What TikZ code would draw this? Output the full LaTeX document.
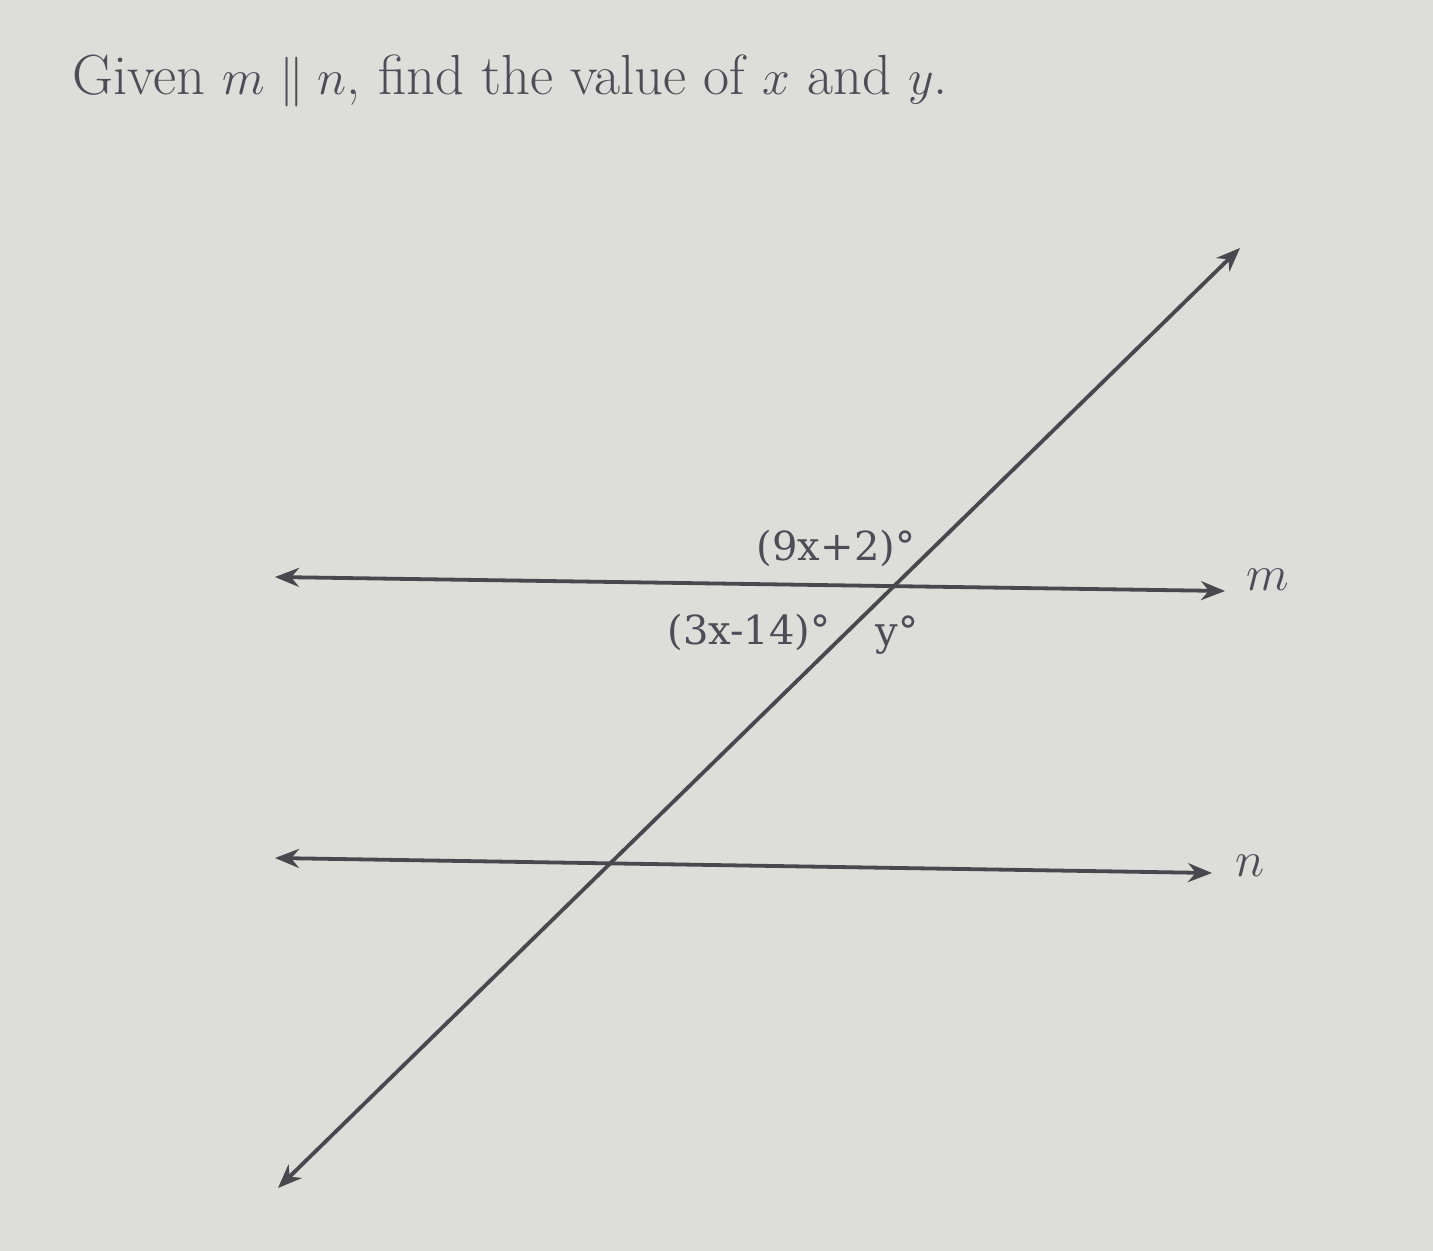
\documentclass[tikz,border=0pt]{standalone}
\usepackage{fontspec}
\newfontfamily\labelfont{DejaVu Serif}
\usetikzlibrary{arrows.meta}
\definecolor{bg}{RGB}{221,221,217}
\definecolor{ink}{RGB}{72,72,78}
\definecolor{txt}{RGB}{78,76,86}
\tikzset{
  line/.style={draw=ink, line width=1.9pt, {Stealth[length=12pt,width=9.5pt]}-{Stealth[length=12pt,width=9.5pt]}},
  anglabel/.style={text=txt, font=\labelfont\fontsize{20}{23}\selectfont, inner sep=0pt},
  linelabel/.style={text=txt, font=\fontsize{24}{28}\selectfont, inner sep=0pt},
  title/.style={text=txt, font=\fontsize{28.3}{32}\selectfont, inner sep=0pt, anchor=base west}
}
\begin{document}
\begin{tikzpicture}[x=0.5pt,y=-0.5pt]
\fill[bg] (0,0) rectangle (1433,1251);
\useasboundingbox (0,0) rectangle (1433,1251);
\node[title] (ttl) at (72,95) {Given $m\parallel n$, find the value of $x$ and $y$.};
\coordinate (mL) at (275,577);
\coordinate (mR) at (1225,591);
\coordinate (nL) at (275,858);
\coordinate (nR) at (1212,873);
\coordinate (tT) at (1240,248);
\coordinate (tB) at (278,1188);
\draw[line] (mL) -- (mR);
\draw[line] (nL) -- (nR);
\draw[line] (tB) -- (tT);
\node[linelabel] (lm) at (1268,580) {$m$};
\node[linelabel] (ln) at (1250,866) {$n$};
\node[anglabel] (a1) at (836,548) {(9x+2)°};
\node[anglabel] (a2) at (749,632) {(3x-14)°};
\node[anglabel] (a3) at (897,635) {y°};
\end{tikzpicture}
\end{document}
